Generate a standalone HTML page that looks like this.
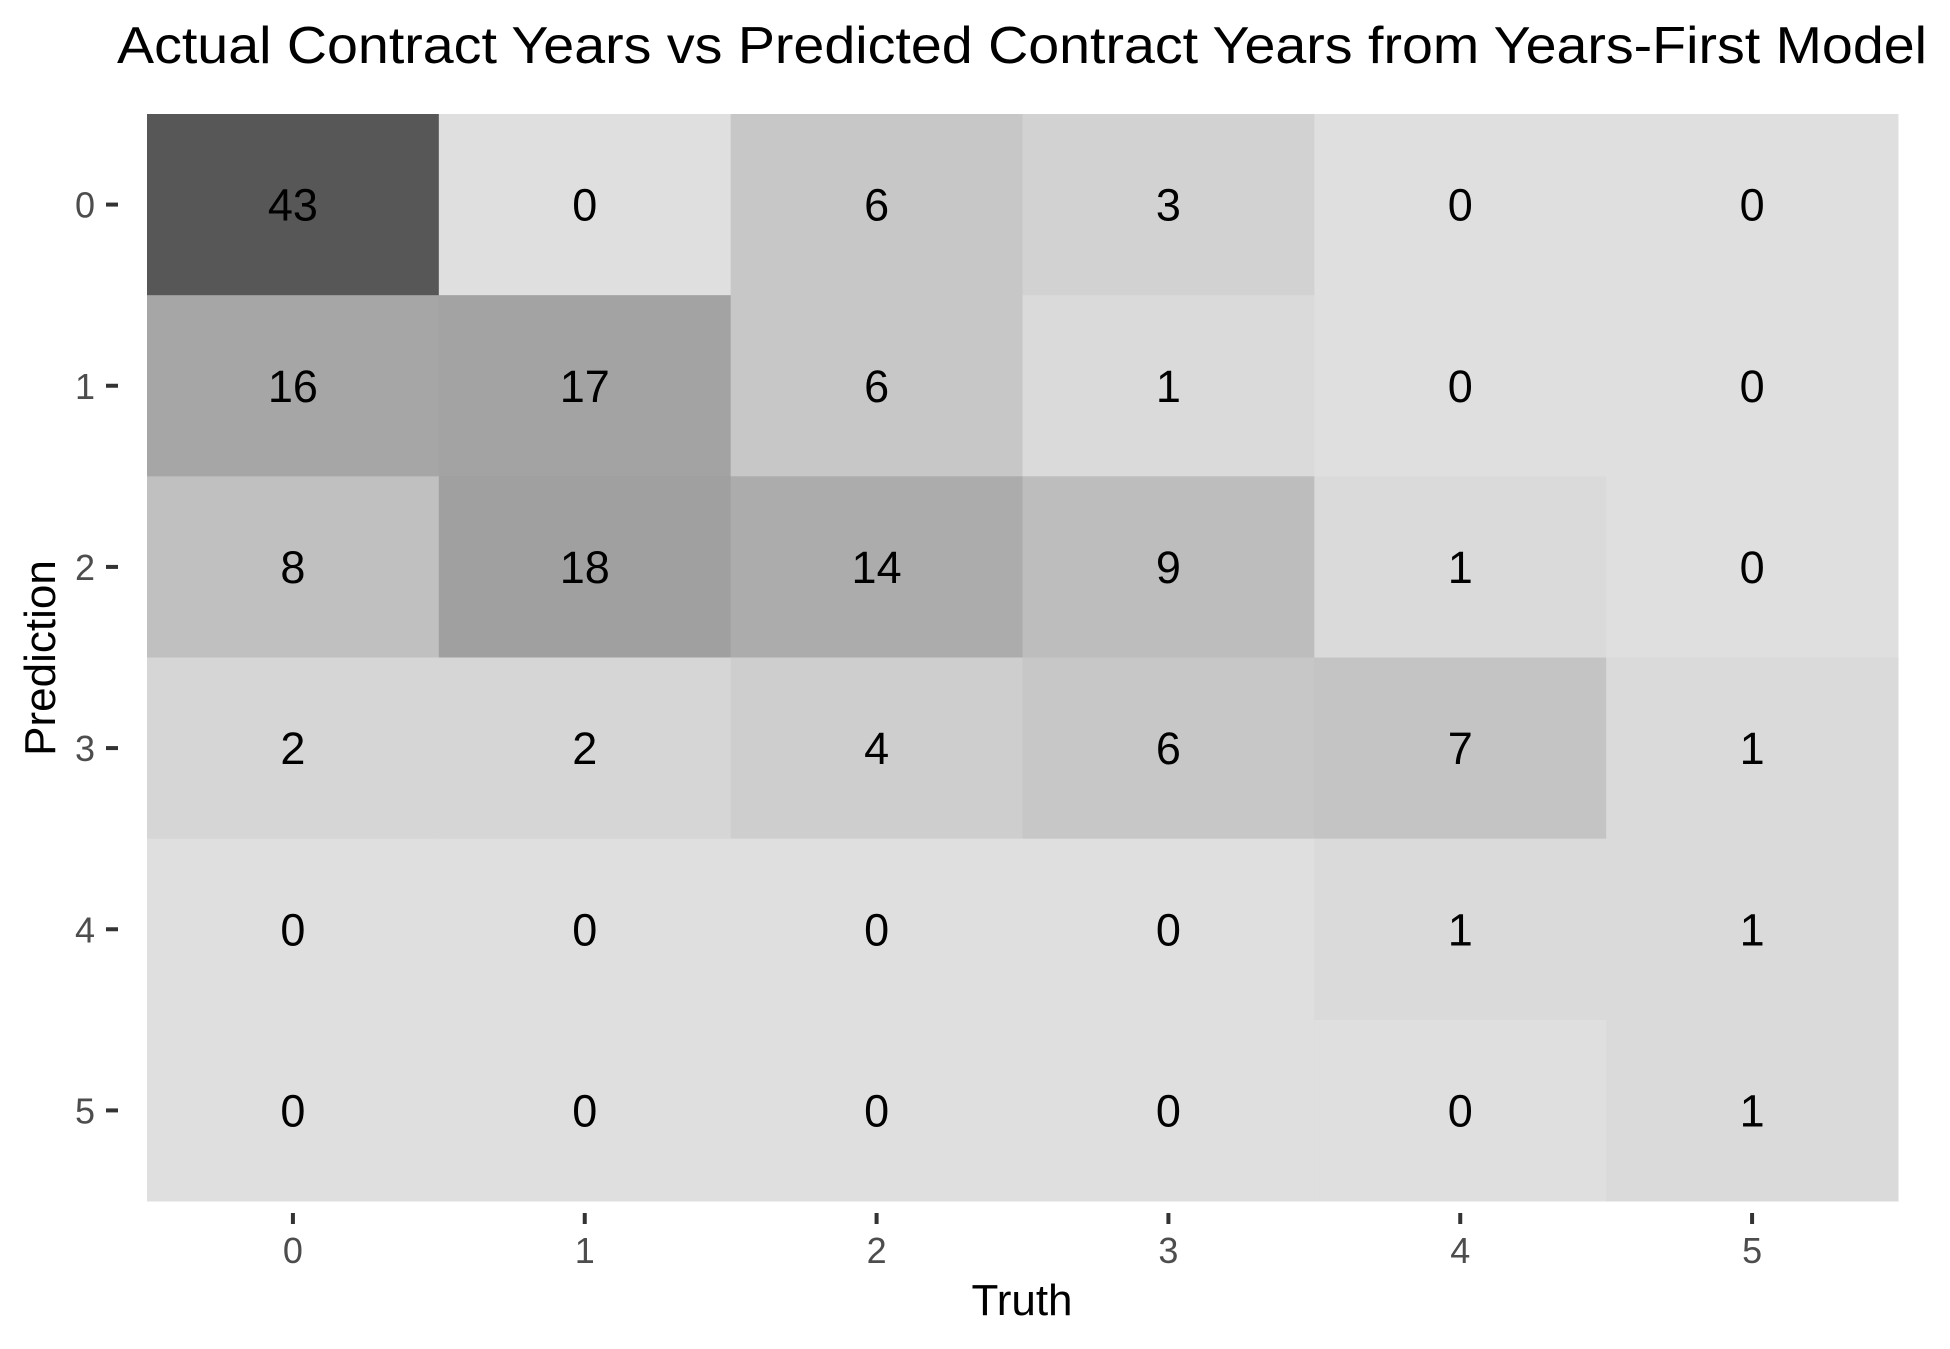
<!DOCTYPE html>
<html><head><meta charset="utf-8"><style>
html,body{margin:0;padding:0;background:#fff;}
svg{display:block;font-family:"Liberation Sans",Arial,sans-serif;}
</style></head><body>
<svg id="chart" width="1950" height="1349" viewBox="0 0 1950 1349" xmlns="http://www.w3.org/2000/svg">
<rect width="1950" height="1349" fill="#fff"/>
<text x="1022" y="63" font-size="52" text-anchor="middle" fill="#000" textLength="1810" lengthAdjust="spacingAndGlyphs">Actual Contract Years vs Predicted Contract Years from Years-First Model</text>
<g id="cells"></g>
<g id="xaxis"></g>
<g id="yaxis"></g>
<text x="1022" y="1315" font-size="44" text-anchor="middle" fill="#000">Truth</text>
<text transform="translate(55,658) rotate(-90)" font-size="44" text-anchor="middle" fill="#000">Prediction</text>
</svg>
<script>
const truthCats = ["0","1","2","3","4","5"];
const predCats = ["0","1","2","3","4","5"];
const row0 = [43,0,6,3,0,0];
const row1 = [16,17,6,1,0,0];
const row2 = [8,18,14,9,1,0];
const row3 = [2,2,4,6,7,1];
const row4 = [0,0,0,0,1,1];
const row5 = [0,0,0,0,0,1];
const rows = [row0,row1,row2,row3,row4,row5];

const NS="http://www.w3.org/2000/svg";
const L=147,R=1898,T=114,B=1201;
const cw=(R-L)/truthCats.length, ch=(B-T)/predCats.length;
function xPos(i){return L+i*cw;}
function yPos(j){return T+j*ch;}
function fill(v){const g=Math.round(223-4.96*Math.pow(v,0.88));return `rgb(${g},${g},${g})`;}
const cells=document.getElementById('cells');
rows.forEach((row,j)=>{
  row.forEach((v,i)=>{
    const r=document.createElementNS(NS,'rect');
    r.setAttribute('x',xPos(i));r.setAttribute('y',yPos(j));
    r.setAttribute('width',cw+0.5);r.setAttribute('height',ch+0.5);
    r.setAttribute('fill',fill(v));
    
    
    cells.appendChild(r);
    const t=document.createElementNS(NS,'text');
    t.setAttribute('x',xPos(i)+cw/2);t.setAttribute('y',yPos(j)+ch/2+16);
    t.setAttribute('font-size','45');t.setAttribute('text-anchor','middle');
    t.setAttribute('fill','#000');t.textContent=v;
    
    
    cells.appendChild(t);
  });
});
const xa=document.getElementById('xaxis');
truthCats.forEach((c,i)=>{
  const cx=xPos(i)+cw/2;
  const tk=document.createElementNS(NS,'rect');
  tk.setAttribute('x',cx-2);tk.setAttribute('y',1213);tk.setAttribute('width',4);tk.setAttribute('height',11);tk.setAttribute('fill','#333');
  
  
  xa.appendChild(tk);
  const t=document.createElementNS(NS,'text');
  t.setAttribute('x',cx);t.setAttribute('y',1263);t.setAttribute('font-size','36');t.setAttribute('text-anchor','middle');t.setAttribute('fill','#4d4d4d');
  t.textContent=c;
  
  
  xa.appendChild(t);
});
const ya=document.getElementById('yaxis');
predCats.forEach((c,j)=>{
  const cy=yPos(j)+ch/2;
  const tk=document.createElementNS(NS,'rect');
  tk.setAttribute('x',106);tk.setAttribute('y',cy-2);tk.setAttribute('width',12);tk.setAttribute('height',4);tk.setAttribute('fill','#333');
  
  
  ya.appendChild(tk);
  const t=document.createElementNS(NS,'text');
  t.setAttribute('x',95);t.setAttribute('y',cy+13);t.setAttribute('font-size','36');t.setAttribute('text-anchor','end');t.setAttribute('fill','#4d4d4d');
  t.textContent=c;
  
  
  ya.appendChild(t);
});
</script>
</body></html>
